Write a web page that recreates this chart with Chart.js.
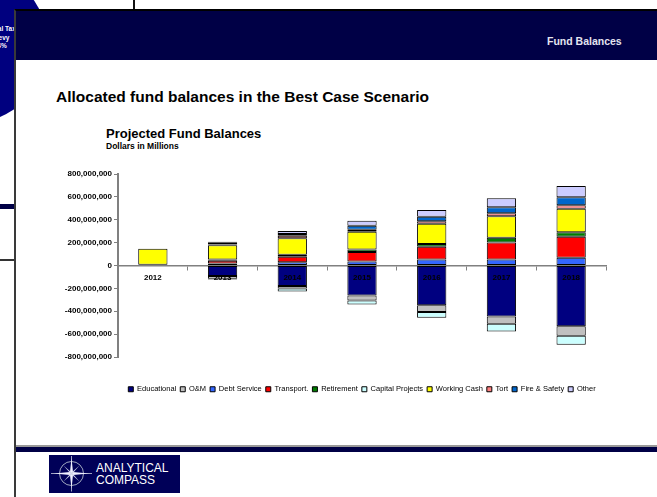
<!DOCTYPE html>
<html>
<head>
<meta charset="utf-8">
<script src="https://cdn.jsdelivr.net/npm/chart.js@4.4.1/dist/chart.umd.min.js"></script>
<style>
  body { margin: 0; width: 657px; height: 497px; position: relative; overflow: hidden; background: #fff;
         font-family: "Liberation Sans", Arial, sans-serif; }
  .abs { position: absolute; }
  .txt { position: absolute; line-height: 1; white-space: nowrap; z-index: 3; }
</style>
</head>
<body>
<!-- left edge decoration -->
<div class="abs" style="left:-108px;top:-33px;width:156px;height:156px;border-radius:50%;background:#00007f;"></div>
<div class="abs" style="left:-23px;top:25px;width:50px;text-align:center;color:#fff;font-weight:bold;font-size:6.5px;line-height:8.7px;">Total Tax<br>Levy<br>4%</div>
<div class="abs" style="left:133px;top:0;width:2px;height:10px;background:#111;"></div>
<div class="abs" style="left:0;top:204px;width:15px;height:5px;background:#000046;"></div>
<div class="abs" style="left:0;top:259px;width:15px;height:2px;background:#333;"></div>

<!-- slide panel -->
<div class="abs" style="left:14px;top:9px;width:660px;height:500px;border-left:2px solid #3a3a3a;border-top:2px solid #000;background:#fff;z-index:1;">
  <div class="abs" style="left:0;top:0;width:660px;height:49px;background:#000046;"></div>
  <div class="abs" style="left:0;top:434px;width:660px;height:1.5px;background:#999;"></div>
  <div class="abs" style="left:0;top:435.5px;width:660px;height:5px;background:#000046;"></div>
</div>

<div class="txt" style="left:547px;top:36px;font-size:10.5px;font-weight:bold;color:#e4e4f0;">Fund Balances</div>
<div class="txt" style="left:56px;top:88.6px;font-size:15.5px;font-weight:bold;color:#000;">Allocated fund balances in the Best Case Scenario</div>
<div class="txt" style="left:106px;top:127.3px;font-size:13px;font-weight:bold;color:#000;">Projected Fund Balances</div>
<div class="txt" style="left:106px;top:142.3px;font-size:8.5px;font-weight:bold;color:#000;">Dollars in Millions</div>

<!-- logo -->
<div class="abs" style="left:49px;top:455px;width:131px;height:38px;background:#000058;z-index:3;">
  <svg width="46" height="38" style="position:absolute;left:0;top:0;">
    <circle cx="22.5" cy="18.5" r="12" fill="none" stroke="#a0a8c0" stroke-width="1"/>
    <line x1="2" y1="18.5" x2="43" y2="18.5" stroke="#c8ccdc" stroke-width="0.8"/>
    <line x1="22.5" y1="1" x2="22.5" y2="36.5" stroke="#c8ccdc" stroke-width="0.8"/>
    <polygon points="22.5,3 24,17 40,18.5 24,20 22.5,34 21,20 5,18.5 21,17" fill="#f0f0ff"/>
    <polygon points="30.5,10.5 23.5,18.5 30.5,26.5 22.5,19.5 14.5,26.5 21.5,18.5 14.5,10.5 22.5,17.5" fill="#d0d4e8"/>
  </svg>
  <div class="txt" style="left:47px;top:6.5px;font-size:12px;color:#fff;">ANALYTICAL</div>
  <div class="txt" style="left:47px;top:18.8px;font-size:12px;color:#fff;">COMPASS</div>
</div>

<canvas id="fundChart" width="657" height="250" style="position:absolute;left:0;top:160px;z-index:2;"></canvas>

<script>
// values in millions of dollars
const years = ["2012", "2013", "2014", "2015", "2016", "2017", "2018"];
const educational     = [6, -91, -179, -263, -348, -445, -532];
const operMaint       = [0, -25, -23, -44, -59, -64, -82];
const debtService     = [0, 18, 29, 35, 53, 53, 67];
const transport       = [0, 23, 47, 84, 110, 149, 184];
const retirement      = [0, 12, 18, 21, 24, 40, 39];
const capitalProjects = [0, -7, -26, -35, -49, -68, -79];
const workingCash     = [140, 125, 144, 154, 178, 188, 207];
const tort            = [0, 5, 23, 18, 21, 26, 30];
const fireSafety      = [0, 15, 15, 35, 40, 53, 70];
const other           = [0, 10, 26, 44, 59, 79, 99];

const seriesNames = ["Educational", "O&M", "Debt Service", "Transport.", "Retirement",
  "Capital Projects", "Working Cash", "Tort", "Fire & Safety", "Other"];
const seriesValues = [educational, operMaint, debtService, transport, retirement,
  capitalProjects, workingCash, tort, fireSafety, other];
const seriesColors = ["#000080", "#c0c0c0", "#3366ff", "#ff0000", "#007a00",
  "#ccffff", "#ffff00", "#ff8080", "#0066cc", "#ccccff"];

const yTicks = { min: -800, max: 800, step: 200 };

function formatDollars(v) {
  const n = Math.round(v * 1000000);
  const s = String(Math.abs(n)).replace(/\B(?=(\d{3})+(?!\d))/g, ",");
  return n < 0 ? "-" + s : s;
}

Chart.defaults.font.family = '"Liberation Sans", Arial, sans-serif';
Chart.defaults.color = "#000";

const datasets = seriesNames.map(function (name, i) {
  return {
    label: name,
    data: seriesValues[i],
    backgroundColor: seriesColors[i],
    borderColor: "#000",
    borderWidth: 1,
    borderSkipped: false,
    categoryPercentage: 1,
    barPercentage: 0.42
  };
});

new Chart(document.getElementById("fundChart").getContext("2d"), {
  type: "bar",
  data: { labels: years, datasets: datasets },
  options: {
    responsive: false,
    animation: false,
    layout: { padding: { left: 0, right: 51, top: 14, bottom: 7 } },
    plugins: {
      tooltip: { enabled: false },
      legend: {
        position: "bottom",
        fullSize: false,
        title: { display: true, text: "", font: { size: 1 }, padding: { top: 23.3, bottom: 0 } },
        labels: { boxWidth: 5, boxHeight: 5, padding: 4, font: { size: 7.5 }, color: "#000" }
      }
    },
    scales: {
      x: {
        stacked: true,
        position: { y: 0 },
        grid: { drawOnChartArea: false, drawTicks: true, tickLength: 4, color: "#808080", offset: true },
        border: { color: "#808080", width: 1.5 },
        ticks: { z: 1, padding: 3, font: { size: 8, weight: "bold" }, color: "#000" }
      },
      y: {
        stacked: true,
        min: yTicks.min,
        max: yTicks.max,
        afterFit: function (scale) { scale.width = 118; },
        grid: { drawOnChartArea: false, drawTicks: true, tickLength: 4, color: "#808080" },
        border: { color: "#808080", width: 2 },
        ticks: {
          stepSize: yTicks.step,
          padding: 2,
          font: { size: 8, weight: "bold" },
          color: "#000",
          callback: function (value) { return formatDollars(value); }
        }
      }
    }
  }
});
</script>
</body>
</html>
